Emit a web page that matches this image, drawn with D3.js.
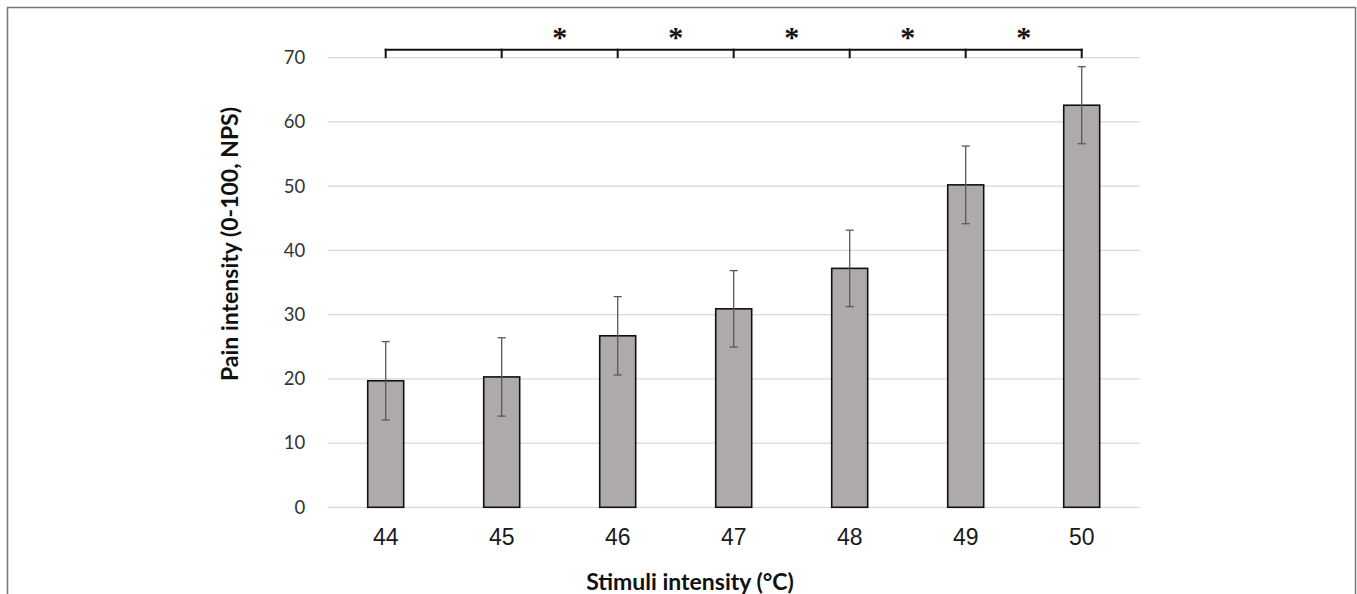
<!DOCTYPE html>
<html>
<head>
<meta charset="utf-8">
<script src="https://cdn.jsdelivr.net/npm/d3@7"></script>
<style>
    html, body { margin: 0; padding: 0; background: #fff; overflow: hidden; }
</style>
</head>
<body>
<div id="chart"></div>
<script>
// stimulus temperature (°C), mean pain rating and error bar
const temps = ['44', '45', '46', '47', '48', '49', '50']
const means = [19.7, 20.3, 26.7, 30.9, 37.2, 50.2, 62.6]
const errors = [6.1, 6.1, 6.1, 5.95, 5.95, 6.05, 6.0]
const yTicks = [0, 10, 20, 30, 40, 50, 60, 70]
// pairs of neighbouring temperatures marked as significant
const sigPairs = [['45', '46'], ['46', '47'], ['47', '48'], ['48', '49'], ['49', '50']]

function drawChart () {
    const width = 1357
    const height = 594

    const svg = d3.select('#chart').append('svg')
        .attr('width', width)
        .attr('height', height)

    // outer frame (bottom edge falls outside the picture)
    svg.append('rect')
        .attr('x', 7.5)
        .attr('y', 7.5)
        .attr('width', 1348)
        .attr('height', 620)
        .attr('fill', 'none')
        .attr('stroke', '#767676')
        .attr('stroke-width', 1.5)

    const x = d3.scaleBand()
        .domain(temps)
        .range([327.7, 1139.7])
        .paddingInner(0.69)
        .paddingOuter(0.345)

    const y = d3.scaleLinear()
        .domain([0, 70])
        .range([507.3, 57.7])

    const data = temps.map((t, i) => ({ t: t, m: means[i], e: errors[i] }))
    const cx = t => x(t) + x.bandwidth() / 2

    // grid
    svg.append('g')
        .selectAll('line').data(yTicks).enter()
        .append('line')
        .attr('x1', x.range()[0])
        .attr('x2', x.range()[1])
        .attr('y1', d => y(d))
        .attr('y2', d => y(d))
        .attr('stroke', '#d9d9d9')
        .attr('stroke-width', 1.3)

    // y axis labels
    svg.append('g')
        .attr('transform', `translate(${x.range()[0]},0)`)
        .call(d3.axisLeft(y).tickValues(yTicks).tickSize(0).tickPadding(22.5))
        .call(g => g.select('.domain').remove())
        .call(g => g.selectAll('text')
            .attr('font-family', 'Lato, sans-serif')
            .attr('font-size', 18.5)
            .attr('fill', '#333'))

    // x axis labels
    svg.append('g')
        .attr('transform', `translate(0,${y(0)})`)
        .call(d3.axisBottom(x).tickSize(0).tickPadding(21))
        .call(g => g.select('.domain').remove())
        .call(g => g.selectAll('text')
            .attr('font-family', '\'Liberation Sans\', Arial, sans-serif')
            .attr('font-size', 23)
            .attr('fill', '#1a1a1a'))

    // bars
    svg.append('g')
        .selectAll('rect').data(data).enter()
        .append('rect')
        .attr('x', d => x(d.t))
        .attr('y', d => y(d.m))
        .attr('width', x.bandwidth())
        .attr('height', d => y(0) - y(d.m))
        .attr('fill', '#aeaaaa')
        .attr('stroke', '#111')
        .attr('stroke-width', 1.6)

    // error bars
    const eb = svg.append('g')
        .attr('stroke', '#595959')
        .attr('stroke-width', 1.3)
        .selectAll('g').data(data).enter()
        .append('g')
    eb.append('line')
        .attr('x1', d => cx(d.t))
        .attr('x2', d => cx(d.t))
        .attr('y1', d => y(d.m + d.e))
        .attr('y2', d => y(d.m - d.e))
    eb.append('line')
        .attr('x1', d => cx(d.t) - 4)
        .attr('x2', d => cx(d.t) + 4)
        .attr('y1', d => y(d.m + d.e))
        .attr('y2', d => y(d.m + d.e))
    eb.append('line')
        .attr('x1', d => cx(d.t) - 4)
        .attr('x2', d => cx(d.t) + 4)
        .attr('y1', d => y(d.m - d.e))
        .attr('y2', d => y(d.m - d.e))

    // significance bracket
    const by = y(70) - 8
    const br = svg.append('g')
        .attr('stroke', '#111')
        .attr('stroke-width', 2)
        .attr('fill', 'none')
    br.append('line')
        .attr('x1', cx(temps[0]) - 1)
        .attr('x2', cx(temps[temps.length - 1]) + 1)
        .attr('y1', by)
        .attr('y2', by)
    br.selectAll('.tick').data(temps).enter()
        .append('line')
        .attr('x1', d => cx(d))
        .attr('x2', d => cx(d))
        .attr('y1', by - 1)
        .attr('y2', y(70) + 0.5)

    svg.append('g')
        .selectAll('text').data(sigPairs).enter()
        .append('text')
        .attr('x', d => (cx(d[0]) + cx(d[1])) / 2)
        .attr('y', 47)
        .attr('text-anchor', 'middle')
        .attr('font-family', '\'Liberation Serif\', serif')
        .attr('font-weight', 'bold')
        .attr('font-size', 30)
        .attr('fill', '#111')
        .text('*')

    // axis titles
    svg.append('text')
        .attr('transform', 'translate(238,244) rotate(-90)')
        .attr('text-anchor', 'middle')
        .attr('font-family', 'Lato, sans-serif')
        .attr('font-weight', 'bold')
        .attr('font-size', 23)
        .attr('fill', '#111')
        .text('Pain intensity (0-100, NPS)')

    svg.append('text')
        .attr('x', 690)
        .attr('y', 589.5)
        .attr('text-anchor', 'middle')
        .attr('font-family', 'Lato, sans-serif')
        .attr('font-weight', 'bold')
        .attr('font-size', 23)
        .attr('fill', '#111')
        .text('Stimuli intensity (°C)')
}

drawChart()
</script>
</body>
</html>
